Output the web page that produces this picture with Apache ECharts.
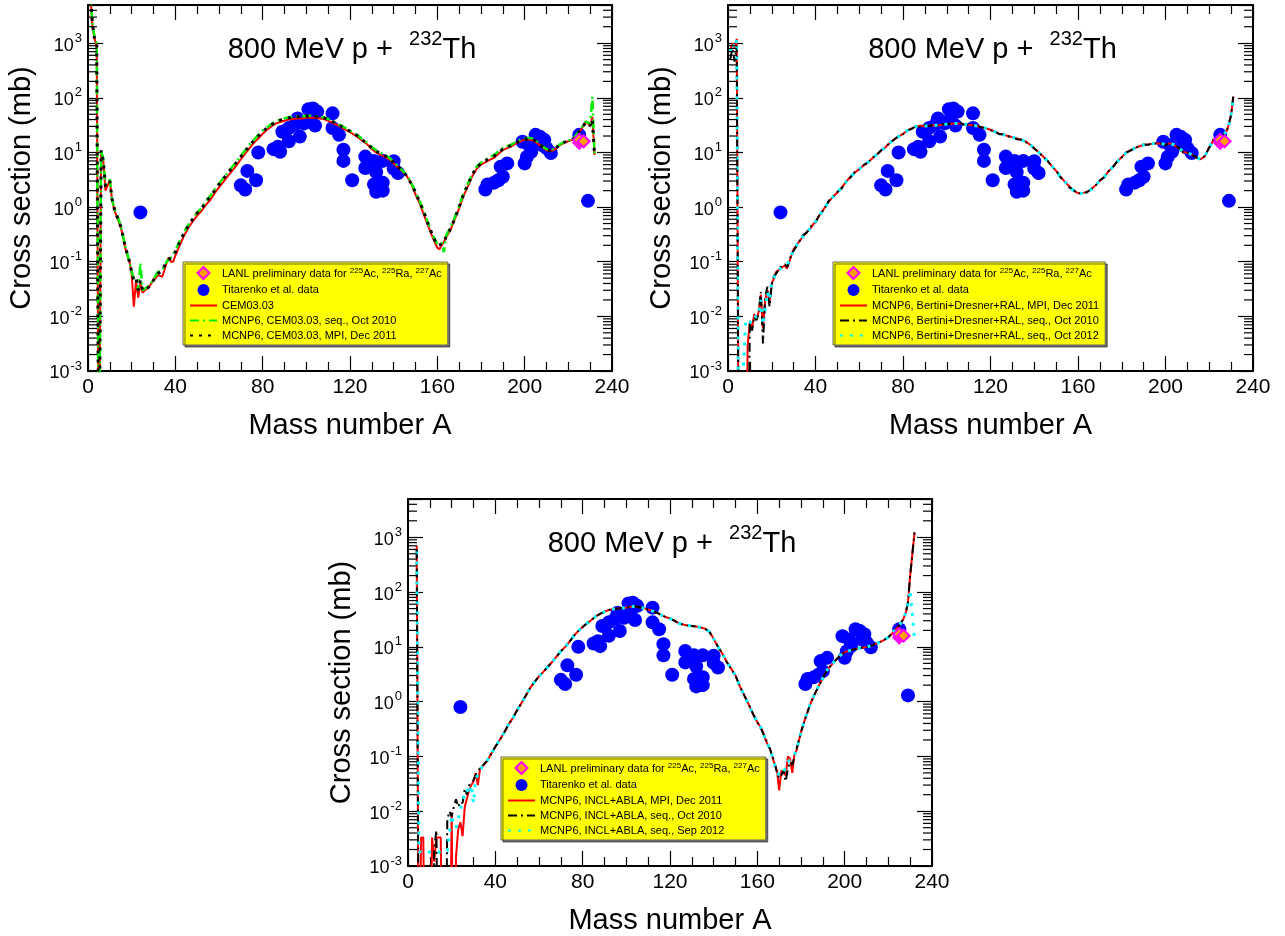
<!DOCTYPE html>
<html><head><meta charset="utf-8">
<script src="https://cdn.jsdelivr.net/npm/echarts@6/dist/echarts.min.js"></script>
<style>html,body{margin:0;padding:0;background:#fff}#c{width:1285px;height:936px}</style>
</head><body><div id="c"></div>
<script>
// ---------------- DATA ----------------
const xTicks = [0, 40, 80, 120, 160, 200, 240];
const yDecades = [-3, -2, -1, 0, 1, 2, 3];
const minorMult = [2, 3, 4, 5, 6, 7, 8, 9];

const nameLANL = 'LANL preliminary data for 225Ac, 225Ra, 227Ac';
const nameTit = 'Titarenko et al. data';

const lanl = [[225, 15], [225, 17], [227, 16]];
const titarenko = [
  [24, 0.8],
  [70, 2.5], [72, 2.1], [73, 4.6], [77, 3.1], [78, 10],
  [85, 11.5], [87, 12.7], [88, 10.3], [89, 24], [92, 16], [92, 28], [95, 33], [96, 42], [97, 19.5],
  [99, 34], [101, 62], [102, 45], [103, 64], [104, 31], [105, 56],
  [112, 52], [112, 28], [115, 21], [117, 11.2], [117, 7], [121, 3.1],
  [127, 8.4], [127, 5.2], [131, 7], [132, 4.4], [135, 7], [131, 2.6], [132, 1.9], [135, 2.8], [135, 2.0],
  [140, 6.9], [140, 5.1], [142, 4.2],
  [182, 2.1], [183, 2.6], [186, 2.8], [188, 3.1], [190, 3.6], [189, 5.5], [192, 6.3],
  [199, 15.7], [201, 8.3], [200, 6.3], [202, 13.6], [203, 10.3], [205, 21], [207, 19.4], [209, 17],
  [210, 12], [212, 9.8], [208, 13.6],
  [225, 21], [229, 1.3]
];

// Panel 1: CEM03.03
const p1Cem = [[1,9000],[2,2100],[3,1200],[4,900],[5,1e-6],[6,10],[7,7],[8,2.0],[9,2.5],[10,3.0],[11,1.4],[12,0.9],[13,0.7],[14,0.55],[15,0.42],[16,0.3],[17,0.18],[18,0.13],[19,0.1],[20,0.06],[21,0.015],[22,0.045],[23,0.022],[24,0.04],[25,0.027],[26,0.03],[27,0.032],[28,0.035],[29,0.04],[30,0.045],[31,0.05],[32,0.057],[33,0.055],[34,0.053],[35,0.07],[36,0.095],[37,0.12],[38,0.1],[39,0.1],[40,0.13],[42,0.2],[44,0.3],[46,0.42],[48,0.55],[50,0.7],[52,0.85],[54,1.1],[56,1.35],[58,1.8],[60,2.3],[62,2.9],[64,3.7],[66,4.6],[68,5.8],[70,7.5],[72,9.5],[74,12],[76,15],[78,18],[80,22],[82,26],[84,30],[86,34],[88,36],[90,38],[92,40],[94,41],[96,42],[98,42],[100,43],[102,43],[104,43],[106,42],[108,41],[110,38],[112,35],[114,32],[116,29],[118,26],[120,23.5],[122,21],[124,18.5],[126,16],[128,14],[130,11.5],[132,10],[134,9],[136,8.3],[138,7.5],[140,6.3],[142,5.3],[144,4.5],[146,3.7],[148,2.7],[150,1.7],[152,1.15],[154,0.7],[156,0.43],[158,0.27],[160,0.18],[161,0.17],[162,0.2],[163,0.23],[164,0.28],[166,0.38],[168,0.6],[170,0.95],[172,1.6],[174,2.4],[176,3.7],[178,5],[180,6],[182,6.6],[184,7.3],[186,8],[188,9.5],[190,11],[192,12],[194,13],[196,14.5],[198,16],[200,17],[202,17.5],[204,16.5],[206,14.5],[208,12.5],[210,11],[212,10.5],[214,11.5],[216,13.5],[218,15],[220,16],[222,17],[224,21],[226,27],[228,36],[229,34],[230,30],[231,45],[232,9]];
const p1SeqOct2010 = [[1,9000],[2,2500],[3,1300],[4,1000],[5,1e-6],[6,11],[7,7.5],[8,2.6],[9,2.8],[10,3.2],[11,1.4],[12,0.95],[13,0.75],[14,0.6],[15,0.45],[16,0.3],[17,0.2],[18,0.14],[19,0.1],[20,0.065],[21,0.05],[22,0.05],[23,0.03],[24,0.095],[25,0.03],[26,0.032],[28,0.036],[30,0.048],[32,0.065],[34,0.07],[36,0.1],[38,0.12],[40,0.16],[42,0.24],[44,0.35],[46,0.48],[48,0.62],[50,0.8],[52,0.95],[54,1.3],[56,1.6],[58,2.1],[60,2.7],[62,3.4],[64,4.3],[66,5.4],[68,6.8],[70,8.7],[72,11],[74,14],[76,17],[78,21],[80,25],[82,29],[84,33],[86,37],[88,40],[90,42],[92,44],[94,45],[96,46],[98,46],[100,46.5],[102,47],[104,46],[106,45],[108,44],[110,41],[112,38],[114,34],[116,31],[118,28],[120,25],[122,22.5],[124,20],[126,17],[128,15],[130,12.5],[132,11],[134,9.8],[136,9],[138,8],[140,6.8],[142,5.6],[144,4.7],[146,3.8],[148,2.8],[150,1.9],[152,1.25],[154,0.8],[156,0.48],[158,0.3],[160,0.21],[162,0.22],[163,0.15],[164,0.3],[166,0.42],[168,0.65],[170,1.05],[172,1.8],[174,2.7],[176,4],[178,5.5],[180,6.5],[182,7.3],[184,8.2],[186,9],[188,10.5],[190,12],[192,13],[194,14],[196,15.5],[198,17],[200,18],[202,18.5],[204,18],[206,15.5],[208,13],[210,11.5],[212,11],[214,12],[216,14],[218,15.5],[220,16.5],[222,17.5],[224,22],[226,28],[228,37],[229,35],[230,33],[231,105],[232,9]];
const p1MpiDec2011 = [[1,9000],[2,2300],[3,1200],[4,950],[5,1e-6],[6,11],[7,7],[8,2.4],[9,2.6],[10,3],[11,1.4],[12,0.95],[13,0.72],[14,0.58],[15,0.44],[16,0.3],[17,0.19],[18,0.14],[19,0.1],[20,0.065],[21,0.045],[22,0.05],[23,0.03],[24,0.045],[25,0.03],[26,0.03],[28,0.035],[30,0.046],[32,0.06],[34,0.07],[36,0.1],[38,0.12],[40,0.15],[42,0.23],[44,0.33],[46,0.46],[48,0.6],[50,0.78],[52,0.92],[54,1.25],[56,1.55],[58,2.0],[60,2.6],[62,3.3],[64,4.2],[66,5.2],[68,6.6],[70,8.4],[72,10.5],[74,13.5],[76,16.5],[78,20],[80,24],[82,28],[84,32],[86,36],[88,39],[90,41],[92,43],[94,44],[96,45],[98,45],[100,46],[102,46],[104,45],[106,44],[108,43],[110,40],[112,37],[114,33],[116,30],[118,27],[120,24.5],[122,22],[124,19.5],[126,16.5],[128,14.5],[130,12],[132,10.5],[134,9.5],[136,8.7],[138,7.8],[140,6.6],[142,5.5],[144,4.6],[146,3.7],[148,2.7],[150,1.85],[152,1.2],[154,0.78],[156,0.46],[158,0.29],[160,0.2],[162,0.21],[163,0.22],[164,0.29],[166,0.4],[168,0.62],[170,1.0],[172,1.7],[174,2.6],[176,3.9],[178,5.3],[180,6.3],[182,7],[184,7.8],[186,8.6],[188,10],[190,11.5],[192,12.5],[194,13.5],[196,15],[198,16.5],[200,17.5],[202,18],[204,17],[206,15],[208,12.8],[210,11.2],[212,10.8],[214,11.8],[216,13.8],[218,15.3],[220,16.3],[222,17.3],[224,21.5],[226,27],[228,36],[229,34],[230,31],[231,40],[232,9]];

// Panel 2: Bertini+Dresner+RAL
const p2MpiDec2011 = [[1,700],[2,1000],[3,800],[4,1200],[5,1e-6],[6,1e-6],[7,1e-6],[8,1e-6],[9,0.003],[10,0.008],[11,0.006],[12,0.011],[13,0.009],[14,0.012],[15,0.025],[16,0.006],[17,0.02],[18,0.03],[19,0.018],[20,0.04],[21,0.05],[22,0.065],[23,0.07],[24,0.075],[25,0.08],[26,0.085],[27,0.075],[28,0.1],[29,0.13],[30,0.17],[32,0.22],[34,0.28],[36,0.35],[38,0.42],[40,0.55],[42,0.72],[44,0.95],[46,1.25],[48,1.55],[50,1.85],[52,2.3],[54,2.9],[56,3.6],[58,4.3],[60,5],[62,5.8],[64,6.6],[66,7.8],[68,9.2],[70,10.8],[72,12.5],[74,15],[76,17.5],[78,19.5],[80,22],[82,25],[84,27.5],[86,30],[88,31],[90,30],[92,31],[94,31.5],[96,31],[98,32],[100,33],[102,33.5],[104,34],[106,34],[108,33],[110,32],[112,31.5],[114,30.5],[116,29],[118,27.5],[120,26],[122,24],[124,22],[126,21],[128,20],[130,19],[132,18],[134,17],[136,16],[138,14],[140,12],[142,10],[144,8.5],[146,7],[148,5.7],[150,4.6],[152,3.6],[154,2.9],[156,2.4],[158,2.0],[160,1.8],[162,1.8],[164,1.9],[166,2.1],[168,2.5],[170,3.0],[172,3.6],[174,4.5],[176,5.5],[178,6.8],[180,8.3],[182,9.8],[184,11],[186,12],[188,13],[190,13.7],[192,14],[194,14.5],[196,14.8],[198,14.5],[200,13.7],[202,14.8],[204,13.5],[206,12],[208,10.3],[210,9.8],[212,9.2],[214,8],[216,7.5],[218,8.5],[220,12.5],[222,17],[224,19],[226,19.5],[228,25],[229,33],[230,50],[231,105]];
const p2SeqOct2010 = [[1,500],[2,800],[3,460],[4,900],[5,1e-6],[6,1e-6],[7,1e-6],[8,1e-6],[9,1e-6],[10,0.0085],[11,0.0055],[12,0.01],[13,0.0085],[14,0.011],[15,0.028],[16,0.0032],[17,0.022],[18,0.035],[19,0.015],[20,0.038],[21,0.055],[22,0.06],[23,0.07],[24,0.08],[25,0.082],[26,0.09],[27,0.08],[28,0.1],[29,0.14],[30,0.16],[32,0.21],[34,0.3],[36,0.34],[38,0.45],[40,0.52],[42,0.75],[44,0.9],[46,1.3],[48,1.5],[50,1.9],[52,2.2],[54,3.0],[56,3.5],[58,4.4],[60,4.9],[62,5.9],[64,6.5],[66,8],[68,9],[70,11],[72,12.3],[74,15.3],[76,17.2],[78,20],[80,21.5],[82,25.5],[84,27],[86,30.5],[88,29],[90,32],[92,30],[94,32.5],[96,30.5],[98,33],[100,32.5],[102,34.5],[104,33.5],[106,35],[108,32],[110,33],[112,31],[114,31],[116,28.5],[118,28],[120,25.5],[122,24.5],[124,21.5],[126,21.5],[128,19.5],[130,19.5],[132,17.5],[134,17.3],[136,15.5],[138,14.3],[140,11.7],[142,10.3],[144,8.3],[146,7.2],[148,5.5],[150,4.7],[152,3.5],[154,3.0],[156,2.3],[158,2.05],[160,1.75],[162,1.85],[164,1.85],[166,2.15],[168,2.45],[170,3.1],[172,3.5],[174,4.6],[176,5.4],[178,7],[180,8.1],[182,10],[184,10.8],[186,12.2],[188,12.8],[190,14],[192,13.8],[194,14.8],[196,14.5],[198,14.8],[200,13.4],[202,15.2],[204,13.2],[206,12.3],[208,10],[210,10.1],[212,9],[214,8.2],[216,7.4],[218,8.7],[220,12.2],[222,17.4],[224,18.6],[226,20],[228,24.5],[229,34],[230,48],[231,108]];
const p2SeqOct2012 = [[1,700],[2,1000],[3,800],[4,1150],[5,1e-6],[6,1e-6],[7,0.0011],[8,0.0075],[9,0.0065],[10,0.0075],[11,0.009],[12,0.0105],[13,0.0095],[14,0.012],[15,0.02],[16,0.007],[17,0.014],[18,0.028],[19,0.02],[20,0.042],[21,0.05],[22,0.062],[24,0.075],[26,0.085],[28,0.1],[30,0.17],[32,0.22],[34,0.28],[36,0.35],[38,0.43],[40,0.55],[42,0.72],[44,0.95],[46,1.25],[48,1.55],[50,1.85],[52,2.3],[54,2.9],[56,3.6],[58,4.3],[60,5],[62,5.8],[64,6.6],[66,7.8],[68,9.2],[70,10.8],[72,12.5],[74,15],[76,17.5],[78,19.5],[80,22],[82,25],[84,27.5],[86,30],[88,30.5],[90,30.5],[92,31],[94,31.5],[96,31.5],[98,32],[100,33],[102,33.5],[104,34],[106,34],[108,33],[110,32],[112,31.5],[114,30.5],[116,29],[118,27.5],[120,26],[122,24],[124,22],[126,21],[128,20],[130,19],[132,18],[134,17],[136,16],[138,14],[140,12],[142,10],[144,8.5],[146,7],[148,5.7],[150,4.6],[152,3.6],[154,2.9],[156,2.4],[158,2.0],[160,1.8],[162,1.8],[164,1.9],[166,2.1],[168,2.5],[170,3.0],[172,3.6],[174,4.5],[176,5.5],[178,6.8],[180,8.3],[182,9.8],[184,11],[186,12],[188,13],[190,13.7],[192,14],[194,14.5],[196,14.8],[198,14.6],[200,14],[202,14.5],[204,13.8],[206,12.2],[208,10.5],[210,9.8],[212,9.2],[214,8],[216,7.5],[218,8.5],[220,12.5],[222,17],[224,19],[226,19.5],[228,25],[229,33],[230,50],[231,105]];

// Panel 3: INCL+ABLA
const p3MpiDec2011 = [[4,700],[5,1e-6],[6,0.0033],[7,0.0033],[8,1e-6],[9,1e-6],[10,1e-6],[11,0.0033],[12,0.0012],[13,0.0033],[14,0.0033],[15,0.0033],[16,1e-6],[17,1e-6],[18,1e-6],[19,1e-6],[20,0.0095],[21,1e-6],[22,0.0015],[23,0.0047],[24,0.0063],[25,0.0035],[26,0.012],[27,0.017],[28,0.025],[29,0.03],[30,0.035],[31,0.05],[32,0.03],[33,0.06],[34,0.065],[36,0.08],[38,0.11],[40,0.15],[42,0.2],[44,0.27],[46,0.38],[48,0.5],[50,0.7],[52,0.95],[54,1.3],[56,1.8],[58,2.3],[60,2.9],[62,3.5],[64,4.3],[66,5.3],[68,6.6],[70,8.3],[72,10],[74,12.5],[76,16],[78,19.5],[80,23],[82,27],[84,31],[86,36],[88,40],[90,44],[92,47],[94,49],[96,50],[98,51],[100,52],[102,54],[104,55],[106,53],[108,51],[110,48],[112,45],[114,42],[116,38],[118,35],[120,33],[122,30],[124,27],[126,25.5],[128,24.5],[130,24],[132,23.5],[134,22.5],[136,21.5],[138,19],[140,14],[142,10],[144,7.5],[146,5.3],[148,4],[150,3],[152,1.9],[154,1.3],[156,0.9],[158,0.6],[160,0.42],[162,0.32],[164,0.19],[166,0.13],[168,0.07],[169,0.055],[170,0.024],[171,0.055],[172,0.05],[173,0.045],[174,0.1],[175,0.09],[176,0.05],[177,0.11],[178,0.13],[180,0.28],[182,0.5],[184,0.85],[186,1.3],[188,1.9],[190,2.7],[192,3.8],[194,4.7],[196,5.8],[198,7],[200,8],[202,8.5],[204,9],[206,9.3],[208,9.6],[210,9.9],[212,10.5],[214,11.2],[216,12.2],[218,13.3],[220,15],[222,18],[224,22],[226,28],[227,33],[228,42],[229,65],[230,200],[231,500],[232,1230]];
const p3SeqOct2010 = [[4,600],[5,1e-6],[11,1e-6],[12,0.002],[13,0.0045],[14,1e-6],[17,1e-6],[18,0.007],[19,0.01],[20,0.008],[21,0.012],[22,0.0166],[23,0.012],[24,0.015],[25,0.014],[26,0.026],[27,0.02],[28,0.03],[30,0.037],[32,0.055],[33,0.06],[34,0.066],[36,0.082],[38,0.11],[40,0.15],[42,0.2],[44,0.27],[46,0.38],[48,0.5],[50,0.7],[52,0.95],[54,1.3],[56,1.8],[58,2.3],[60,2.9],[62,3.5],[64,4.3],[66,5.3],[68,6.6],[70,8.3],[72,10],[74,12.5],[76,16],[78,19.5],[80,23],[82,27],[84,31],[86,36],[88,40],[90,44],[92,47],[94,49],[96,50],[98,51],[100,52],[102,54],[104,55],[106,53],[108,51],[110,48],[112,45],[114,42],[116,38],[118,35],[120,33],[122,30],[124,27],[126,25.5],[128,24.5],[130,24],[132,23.5],[134,22.5],[136,21.5],[138,19],[140,14],[142,10],[144,7.5],[146,5.3],[148,4],[150,3],[152,1.9],[154,1.3],[156,0.9],[158,0.6],[160,0.42],[162,0.3],[164,0.2],[166,0.13],[168,0.075],[169,0.05],[170,0.04],[171,0.045],[172,0.055],[173,0.035],[174,0.06],[175,0.08],[176,0.07],[177,0.1],[178,0.14],[180,0.28],[182,0.5],[184,0.85],[186,1.3],[188,1.9],[190,2.7],[192,3.8],[194,4.7],[196,5.8],[198,7],[200,8],[202,8.5],[204,9],[206,9.3],[208,9.6],[210,9.9],[212,10.5],[214,11.2],[216,12.2],[218,13.3],[220,15],[222,18],[224,22],[226,28],[227,33],[228,42],[229,65],[230,200],[231,500],[232,1230]];
const p3SeqSep2012 = [[4,550],[5,0.0018],[6,0.0018],[8,0.0017],[10,0.0018],[12,0.0019],[14,0.0018],[16,0.0017],[18,0.0019],[19,0.004],[20,0.0085],[21,0.0055],[22,0.005],[23,0.007],[24,0.011],[25,0.016],[26,0.02],[27,0.025],[28,0.02],[29,0.03],[30,0.014],[31,0.04],[32,0.045],[34,0.065],[36,0.08],[38,0.11],[40,0.15],[42,0.2],[44,0.27],[46,0.38],[48,0.5],[50,0.7],[52,0.95],[54,1.3],[56,1.8],[58,2.3],[60,2.9],[62,3.5],[64,4.3],[66,5.3],[68,6.6],[70,8.3],[72,10],[74,12.5],[76,16],[78,19.5],[80,23],[82,27],[84,31],[86,36],[88,40],[90,44],[92,47],[94,49],[96,50],[98,51],[100,52],[102,54],[104,55],[106,53],[108,51],[110,48],[112,45],[114,42],[116,38],[118,35],[120,33],[122,30],[124,27],[126,25.5],[128,24.5],[130,24],[132,23.5],[134,22.5],[136,21.5],[138,19],[140,14],[142,10],[144,7.5],[146,5.3],[148,4],[150,3],[152,1.9],[154,1.3],[156,0.9],[158,0.6],[160,0.42],[162,0.32],[164,0.19],[166,0.13],[168,0.07],[170,0.045],[172,0.05],[174,0.08],[176,0.09],[178,0.13],[180,0.28],[182,0.5],[184,0.85],[186,1.3],[188,1.9],[190,2.7],[192,3.8],[194,4.7],[196,5.8],[198,7],[200,8],[202,8.5],[204,9],[206,9.3],[208,9.6],[210,9.9],[212,10.5],[214,11.2],[216,12.2],[218,13.3],[220,15],[222,18],[224,22],[226,28],[227,33],[228,42],[229,60],[230,110],[231,40],[232,13]];

const titleText = '800 MeV p +';
const titleSup = '232';
const titleEnd = 'Th';

// ---------------- LAYOUT / STYLE ----------------
const FONT = '"Liberation Sans", Arial, Helvetica, sans-serif';
const grids = [
  {left: 88, top: 5, width: 524, height: 366},
  {left: 728, top: 5, width: 525, height: 366},
  {left: 408, top: 499, width: 524, height: 368}
];
const legendPos = [{left: 183, top: 262}, {left: 833, top: 262}, {left: 501, top: 757}];

const minorVals = [];
yDecades.forEach(d => minorMult.forEach(m => { const v = m * Math.pow(10, d); if (v <= 5000) minorVals.push([0, v]); }));

function yLabel(v) {
  const l = Math.log10(v); const e = Math.round(l);
  if (Math.abs(l - e) > 1e-6) return '';
  return '{b|10}{s|' + e + '}';
}

const xAxes = [], yAxes = [], series = [], legends = [], graphics = [];
grids.forEach((g, gi) => {
  const base = {type: 'value', gridIndex: gi, min: 0, max: 240, interval: 40,
    axisLine: {show: true, onZero: false, lineStyle: {color: '#000', width: 2}},
    axisTick: {show: true, inside: true, length: 15, lineStyle: {color: '#000', width: 1.2}},
    minorTick: {show: true, splitNumber: 4, length: 9, lineStyle: {color: '#000', width: 1.2}},
    splitLine: {show: false}};
  xAxes.push(Object.assign({}, base, {position: 'bottom', name: 'Mass number A', nameLocation: 'middle', nameGap: 40,
    nameTextStyle: {fontSize: 29, color: '#000', fontFamily: FONT},
    axisLabel: {show: true, fontSize: 21, color: '#000', fontFamily: FONT, margin: 6, formatter: v => xTicks.includes(v) ? String(v) : ''}}));
  xAxes.push(Object.assign({}, base, {position: 'top', axisLabel: {show: false}}));
  const ybase = {type: 'log', logBase: 10, gridIndex: gi, min: 0.001, max: 5000,
    axisLine: {show: true, onZero: false, lineStyle: {color: '#000', width: 2}},
    axisTick: {show: true, inside: true, length: 15, lineStyle: {color: '#000', width: 1.2}},
    splitLine: {show: false}};
  yAxes.push(Object.assign({}, ybase, {position: 'left', name: 'Cross section (mb)', nameLocation: 'middle', nameGap: 52,
    nameTextStyle: {fontSize: 29, color: '#000', fontFamily: FONT},
    axisLabel: {show: true, margin: 6, formatter: yLabel, color: '#000',
      rich: {b: {fontSize: 18, fontFamily: FONT, color: '#000', verticalAlign: 'bottom'},
             s: {fontSize: 13, fontFamily: FONT, color: '#000', verticalAlign: 'bottom', padding: [0, 0, 10, 1]}}}}));
  yAxes.push(Object.assign({}, ybase, {position: 'right', axisLabel: {show: false}}));

  // minor log ticks drawn through the axis scales
  series.push({type: 'custom', name: 'minor' + gi, xAxisIndex: gi * 2, yAxisIndex: gi * 2, silent: true, clip: false,
    data: minorVals, encode: {x: 0, y: 1}, z: 5,
    renderItem: (params, api) => {
      const v = api.value(1);
      const a = api.coord([0, v]), b = api.coord([240, v]);
      return {type: 'group', children: [
        {type: 'line', shape: {x1: a[0], y1: a[1], x2: a[0] + 9, y2: a[1]}, style: {stroke: '#000', lineWidth: 1.2}},
        {type: 'line', shape: {x1: b[0] - 9, y1: b[1], x2: b[0], y2: b[1]}, style: {stroke: '#000', lineWidth: 1.2}}
      ]};
    }});

  const cx = g.left + g.width / 2 + 2;
  graphics.push({type: 'text', x: cx, y: g.top + 42, z: 10,
    style: {text: '{a|' + titleText + '  }{s|' + titleSup + '}{a|' + titleEnd + '}', align: 'center', verticalAlign: 'middle',
      rich: {a: {fontSize: 29, fontFamily: FONT, fill: '#000', verticalAlign: 'bottom'},
             s: {fontSize: 20, fontFamily: FONT, fill: '#000', verticalAlign: 'bottom', padding: [0, 0, 15, 0]}}}});
});

const titStyle = (gi) => ({type: 'scatter', name: nameTit, data: titarenko, xAxisIndex: gi * 2, yAxisIndex: gi * 2,
  symbol: 'circle', symbolSize: 14, itemStyle: {color: '#0000ff', opacity: 1}, z: 2});
const lanlStyle = (gi) => ({type: 'scatter', name: nameLANL, data: lanl, xAxisIndex: gi * 2, yAxisIndex: gi * 2,
  symbol: 'diamond', symbolSize: 12, itemStyle: {color: '#ffa000', borderColor: '#ff00ff', borderWidth: 2, opacity: 1}, z: 4});
const line = (gi, name, data, ls) => ({type: 'line', name, data, xAxisIndex: gi * 2, yAxisIndex: gi * 2,
  symbol: 'none', showSymbol: false, clip: true, lineStyle: ls, itemStyle: {color: ls.color, opacity: 0}, z: 3});

const RED = {color: '#ff0000', width: 2, type: 'solid'};
const GREEN = {color: '#00ee00', width: 2.5, type: [9, 4, 2, 4]};
const BLACKDOT = {color: '#000000', width: 3, type: [3, 6]};
const BLACKDD = {color: '#000000', width: 2, type: [9, 4, 2, 4]};
const CYAN = {color: '#00ffff', width: 3, type: [3, 7]};

const n1 = ['CEM03.03', 'MCNP6, CEM03.03, seq., Oct 2010', 'MCNP6, CEM03.03, MPI, Dec 2011'];
const n2 = ['MCNP6, Bertini+Dresner+RAL, MPI, Dec 2011', 'MCNP6, Bertini+Dresner+RAL, seq., Oct 2010', 'MCNP6, Bertini+Dresner+RAL, seq., Oct 2012'];
const n3 = ['MCNP6, INCL+ABLA, MPI, Dec 2011', 'MCNP6, INCL+ABLA, seq., Oct 2010', 'MCNP6, INCL+ABLA, seq., Sep 2012'];

series.push(titStyle(0), line(0, n1[0], p1Cem, RED), line(0, n1[1], p1SeqOct2010, GREEN), line(0, n1[2], p1MpiDec2011, BLACKDOT), lanlStyle(0));
series.push(titStyle(1), line(1, n2[0], p2MpiDec2011, RED), line(1, n2[1], p2SeqOct2010, BLACKDD), line(1, n2[2], p2SeqOct2012, CYAN), lanlStyle(1));
series.push(titStyle(2), line(2, n3[0], p3MpiDec2011, RED), line(2, n3[1], p3SeqOct2010, BLACKDD), line(2, n3[2], p3SeqSep2012, CYAN), lanlStyle(2));

const diamondIcon = 'path://M0,-10L10,0L0,10L-10,0Z';
[n1, n2, n3].forEach((names, i) => {
  legends.push({data: [{name: nameLANL, icon: diamondIcon}, nameTit].concat(names), left: legendPos[i].left, top: legendPos[i].top,
    orient: 'vertical', selectedMode: false, backgroundColor: '#ffff00', borderColor: '#666', borderWidth: 1, borderRadius: 0,
    shadowColor: 'rgba(0,0,0,0.55)', shadowOffsetX: 2, shadowOffsetY: 2, shadowBlur: 0,
    padding: [4, 6, 4, 6], itemGap: 4, itemWidth: 27, itemHeight: 12, symbolKeepAspect: true,
    itemStyle: {borderWidth: 'inherit'},
    textStyle: {fontSize: 11, color: '#000', fontFamily: FONT,
      rich: {s: {fontSize: 8, fontFamily: FONT, color: '#000', verticalAlign: 'bottom', padding: [0, 0, 5, 0]},
             t: {fontSize: 11, fontFamily: FONT, color: '#000', verticalAlign: 'bottom'}}},
    formatter: (name) => name === nameLANL
      ? '{t|LANL preliminary data for }{s|225}{t|Ac, }{s|225}{t|Ra, }{s|227}{t|Ac}' : name});
});

const chart = echarts.init(document.getElementById('c'), null, {renderer: 'canvas'});
chart.setOption({
  animation: false,
  backgroundColor: '#fff',
  grid: grids.map(g => Object.assign({containLabel: false}, g)),
  xAxis: xAxes, yAxis: yAxes, legend: legends, series, graphic: graphics
});
</script></body></html>
